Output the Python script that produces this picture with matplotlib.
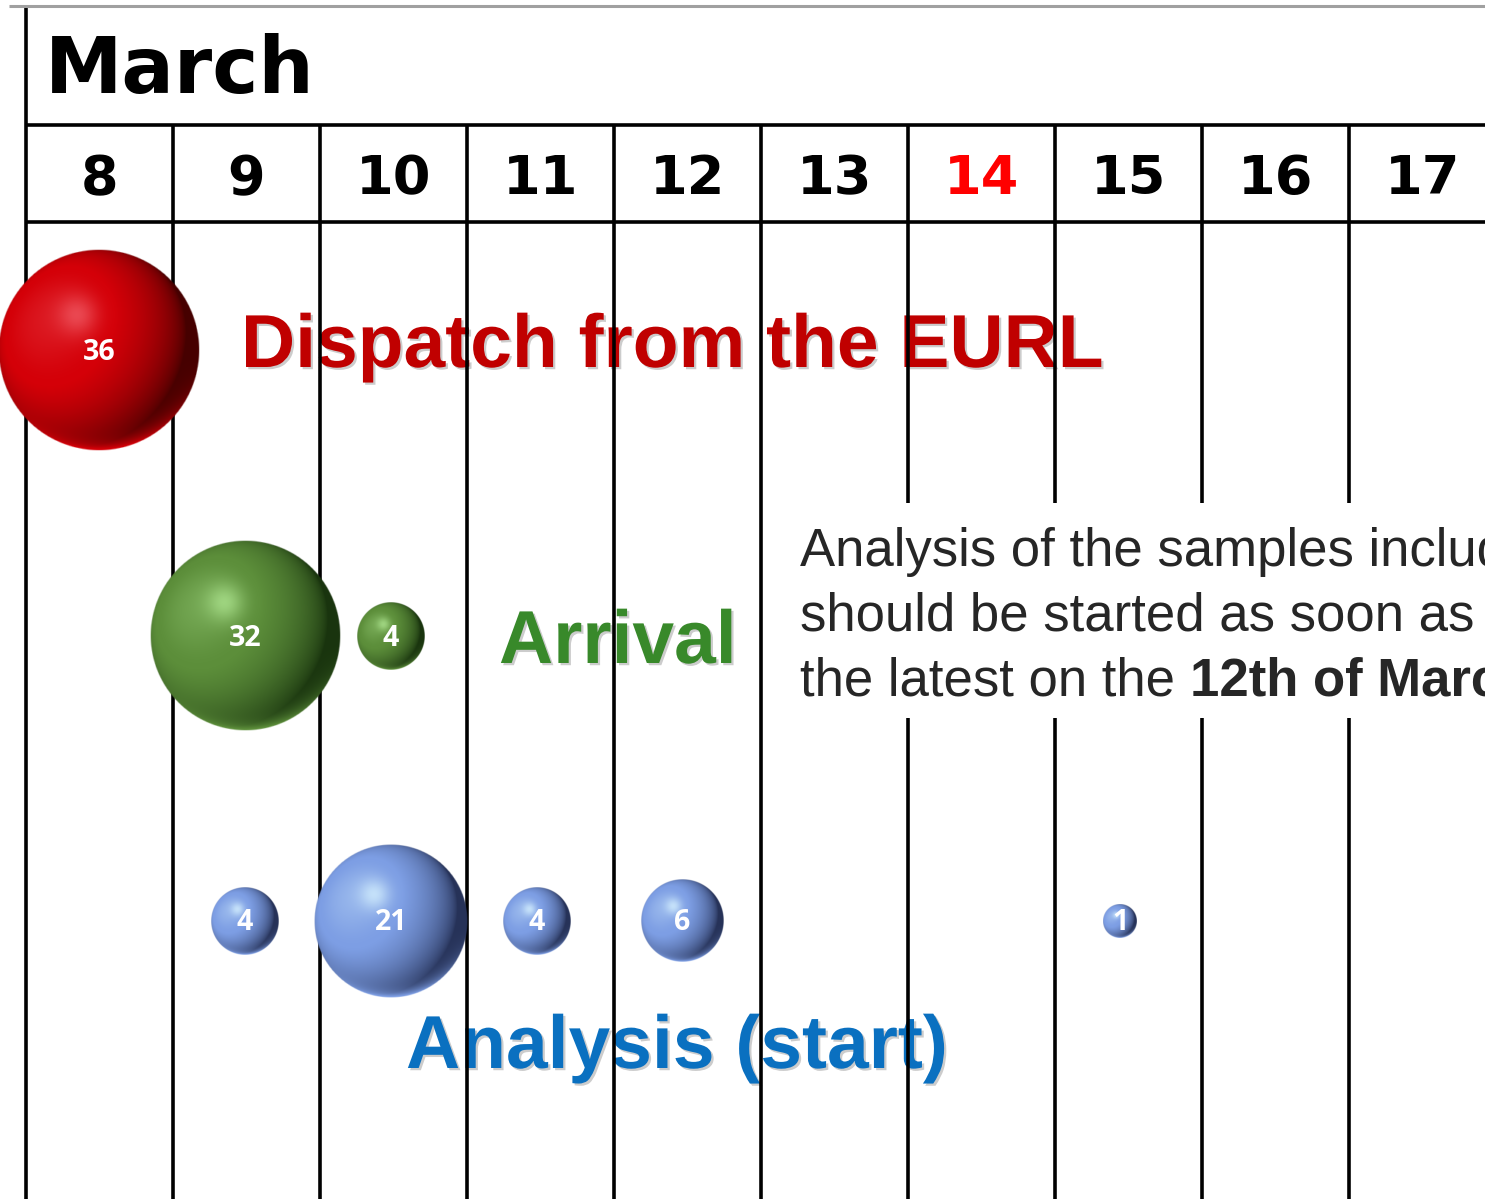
import numpy as np
import matplotlib
matplotlib.use("Agg")
import matplotlib.pyplot as plt
import matplotlib.patheffects as pe
from matplotlib.patches import Rectangle

# ---------------- data ----------------
month = "March"
days = [8, 9, 10, 11, 12, 13, 14, 15, 16, 17]
highlight_day = 14

dispatch_days = [8]
dispatch_vals = [36]
arrival_days = [9, 10]
arrival_vals = [32, 4]
analysis_days = [9, 10, 11, 12, 15]
analysis_vals = [4, 21, 4, 6, 1]

row_labels = ["Dispatch from the EURL", "Arrival", "Analysis (start)"]
note_lines = ["Analysis of the samples included",
              "should be started as soon as possible, at",
              "the latest on the "]
note_bold = "12th of March"

# ---------------- layout ----------------
W, H = 1485, 1199
PX_PER_DAY = 147.0
X0 = 8 - 99.5 / PX_PER_DAY          # day value at the left pixel edge (table)
B_PX_PER_DAY = 145.9                 # bubble chart scale
B_X0 = 8 - 99.0 / B_PX_PER_DAY


def px(x):
    return X0 + x / PX_PER_DAY


fig = plt.figure(figsize=(W / 100, H / 100), dpi=100)
ax = fig.add_axes([0, 0, 1, 1])
ax.set_xlim(px(0), px(W))
ax.set_ylim(H, 0)
ax.axis("off")

# grid
lw = 2.6
first = days[0] - 0.5
ax.vlines([first], 8, H, color="black", lw=lw, zorder=2)
ax.vlines([d - 0.5 for d in days[1:]], 125, H, color="black", lw=lw, zorder=2)
ax.hlines([125, 222], first, px(W), color="black", lw=lw, zorder=2)
ax.hlines([6], px(9), px(W), color="#a0a0a0", lw=2.2, zorder=2)

# header
ax.text(px(45), 93, month, fontfamily="DejaVu Sans", fontweight="bold",
        fontsize=56, va="baseline", ha="left", color="black", zorder=4)
for d in days:
    ax.text(d, 179, str(d), fontfamily="DejaVu Sans", fontweight="bold",
            fontsize=39, ha="center", va="center",
            color="#ff0000" if d == highlight_day else "black", zorder=4)

# ---------------- row labels ----------------
shadow = [pe.SimplePatchShadow(offset=(1.6, -1.6), shadow_rgbFace="#808080", alpha=0.4),
          pe.Normal()]
lab_pos = [(241, 367, "#c00000"), (499, 663, "#38892a"), (406, 1068, "#0a70c0")]
for txt, (x, y, c) in zip(row_labels, lab_pos):
    ax.text(px(x), y, txt, fontfamily="Liberation Sans", fontweight="bold",
            fontsize=54, color=c, ha="left", va="baseline", zorder=1,
            path_effects=shadow)

# ---------------- note box ----------------
ax.add_patch(Rectangle((px(776), 503), px(W + 10) - px(776), 215,
                       facecolor="white", edgecolor="none", zorder=3))
note_y = [566, 631, 695]
t_last = None
for line, y in zip(note_lines, note_y):
    t_last = ax.text(px(800), y, line, fontfamily="Liberation Sans", fontsize=38,
                     color="#262626", ha="left", va="baseline", zorder=4)
ax.annotate(note_bold, xy=(1, 0), xycoords=t_last, xytext=(0, 0),
            textcoords="offset points", fontfamily="Liberation Sans",
            fontweight="bold", fontsize=38, color="#262626",
            ha="left", va="bottom", zorder=4, annotation_clip=False)


# ---------------- spheres (bubble axes) ----------------
def sphere_img(base, light, dark, n=260):
    base, light, dark = (np.array(c, float) / 255 for c in (base, light, dark))
    yy, xx = np.mgrid[-1:1:n * 1j, -1:1:n * 1j]
    rr = np.sqrt(xx ** 2 + yy ** 2)
    z = np.sqrt(np.clip(1 - rr ** 2, 0, 1))
    L = np.array([-0.5, -0.3, 0.81])
    L = L / np.linalg.norm(L)
    d = np.clip(xx * L[0] + yy * L[1] + z * L[2], 0, 1)
    t = d[..., None]
    col = np.where(t < 0.78, dark + (base - dark) * np.clip(t / 0.78, 0, 1) ** 0.75,
                   base + (light - base) * 0.25 * ((t - 0.78) / 0.22) ** 2)
    spec = np.exp(-((xx + 0.22) ** 2 + (yy + 0.35) ** 2) / 0.04)[..., None]
    col = col + (light - col) * spec * 0.75
    refl = (np.clip(yy, 0, 1) ** 2 * np.clip(rr, 0, 1) ** 8)[..., None]
    col = col + (base * 1.0 - col) * np.clip(refl * 1.2, 0, 1)
    col = np.clip(col, 0, 1)
    alpha = np.clip((1 - rr) * n / 2.2, 0, 1)
    return np.dstack([col, alpha])


bx = fig.add_axes([0, 0, 1, 1], facecolor="none")
bx.axis("off")

K = 16.8  # px radius per sqrt(value)
styles = {
    "red": ((212, 0, 8), (240, 90, 100), (70, 0, 0)),
    "green": ((92, 142, 58), (175, 230, 145), (25, 52, 14)),
    "blue": ((125, 158, 228), (215, 242, 255), (38, 50, 88)),
}
row_y = [350, 636, 921]
series = [(dispatch_days, dispatch_vals, "red"),
          (arrival_days, arrival_vals, "green"),
          (analysis_days, analysis_vals, "blue")]

imgs = {k: sphere_img(*v) for k, v in styles.items()}
for (ds, vs, key), y in zip(series, row_y):
    for dday, v in zip(ds, vs):
        r = K * np.sqrt(v)
        hw = r / B_PX_PER_DAY
        bx.imshow(imgs[key], extent=[dday - hw, dday + hw, y + r, y - r],
                  interpolation="bilinear", zorder=5)
        bx.text(dday, y + 2, str(v), color="white", fontfamily="Open Sans",
                fontweight="bold", fontsize=20.5, ha="center", va="center", zorder=6)

bx.set_xlim(B_X0, B_X0 + W / B_PX_PER_DAY)
bx.set_ylim(H, 0)
bx.set_aspect("auto")

fig.savefig("out.png", dpi=100)
